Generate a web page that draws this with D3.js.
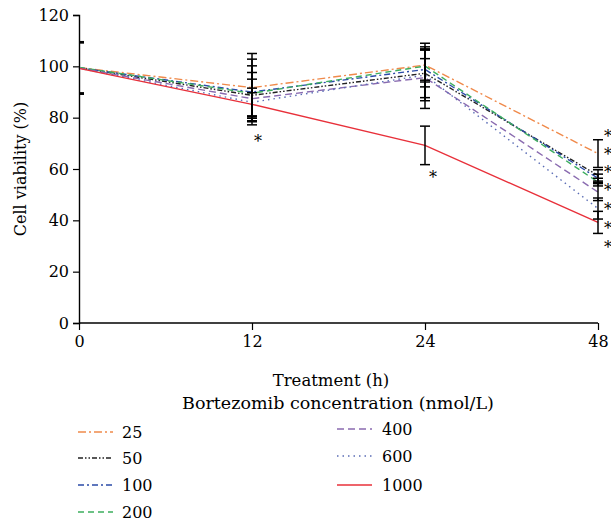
<!DOCTYPE html>
<html>
<head>
<meta charset="utf-8">
<script src="https://cdn.jsdelivr.net/npm/d3@7"></script>
<style>
  body { margin: 0; background: #fff; }
</style>
</head>
<body>
<script>
// data
const times = ["0", "12", "24", "48"];
const doses = ["25", "50", "100", "200", "400", "600", "1000"];

const v25 = [99.5, 91.7, 100.5, 66.0];
const v50 = [99.4, 88.7, 97.3, 57.5];
const v100 = [99.4, 90.0, 98.8, 56.4];
const v200 = [99.6, 89.5, 100.1, 54.9];
const v400 = [99.3, 87.4, 95.6, 51.0];
const v600 = [99.3, 86.0, 96.6, 44.6];
const v1000 = [99.2, 85.2, 69.2, 39.2];

const e25 = [10, 13.3, 8.5, 5.4];
const e50 = [10, 8.9, 9.5, 2.2];
const e100 = [10, 12.8, 4.2, 1.6];
const e200 = [10, 10.7, 6.2, 1.5];
const e400 = [10, 7.6, 12.0, 3.3];
const e600 = [10, 5.5, 10.0, 4.1];
const e1000 = [10, 4.5, 7.5, 4.3];

const yTicks = [0, 20, 40, 60, 80, 100, 120];
// asterisk positions (value units)
const star12 = 72.3, star24 = 58.2;
const starsAt48 = [74.3, 67.2, 60.2, 53.2, 45.7, 38.3, 30.9];

const values = [v25, v50, v100, v200, v400, v600, v1000];
const errors = [e25, e50, e100, e200, e400, e600, e1000];

const colors = ["#f08a4b", "#222222", "#2b4ba8", "#3dae5e", "#8a6bb0", "#5a6cb5", "#e8303a"];
const dashes = ["8,3,2,3", "5,2,1.5,2,1.5,2", "6,3,2,3", "6,4", "7,4", "1.5,4", null];

const serif = "DejaVu Serif";

let width = 611, height = 522;
let margin = { top: 15, bottom: 199, left: 79, right: 13 };

let svg = d3.select('body')
  .append('svg')
  .attr('width', width)
  .attr('height', height)
  .attr('font-family', serif);

const xScale = d3.scalePoint()
  .domain(times)
  .range([margin.left, width - margin.right]);

const yScale = d3.scaleLinear()
  .domain([0, 120])
  .range([height - margin.bottom, margin.top]);

// keep error bars right of the y axis, like the original
svg.append("clipPath").attr("id", "plot")
  .append("rect")
  .attr("x", margin.left).attr("y", 0)
  .attr("width", width - margin.left).attr("height", height - margin.bottom);

// axes
const yAxis = svg.append("g")
  .attr("transform", `translate(${margin.left},0)`)
  .call(d3.axisLeft(yScale).tickValues(yTicks).tickSize(6).tickPadding(4));

const xAxis = svg.append("g")
  .attr("transform", `translate(0,${height - margin.bottom})`)
  .call(d3.axisBottom(xScale).tickSize(7).tickPadding(6));

[xAxis, yAxis].forEach(a => {
  a.attr("font-family", serif).attr("font-size", 16);
  a.select(".domain").attr("stroke", "#000").attr("stroke-width", 1.4);
  a.selectAll(".tick line").attr("stroke", "#000").attr("stroke-width", 1.2);
  a.selectAll(".tick text").attr("fill", "#000");
});
xAxis.select(".domain").attr("d", `M${margin.left},0H${width - margin.right}`);

// lines
const line = d3.line()
  .x((d, i) => xScale(times[i]))
  .y(d => yScale(d));

values.forEach((vals, k) => {
  svg.append("path")
    .datum(vals)
    .attr("fill", "none")
    .attr("stroke", colors[k])
    .attr("stroke-width", 1.4)
    .attr("stroke-dasharray", dashes[k])
    .attr("d", line);
});

// error bars
const cap = 5;
const bars = svg.append("g")
  .attr("clip-path", "url(#plot)")
  .attr("stroke", "#000")
  .attr("stroke-width", 1.5);
values.forEach((vals, k) => {
  vals.forEach((v, i) => {
    const x = xScale(times[i]);
    const lo = yScale(v - errors[k][i]), hi = yScale(v + errors[k][i]);
    bars.append("line").attr("x1", x).attr("x2", x).attr("y1", lo).attr("y2", hi);
    bars.append("line").attr("x1", x - cap).attr("x2", x + cap).attr("y1", lo).attr("y2", lo);
    bars.append("line").attr("x1", x - cap).attr("x2", x + cap).attr("y1", hi).attr("y2", hi);
  });
});

// significance stars
const star = (x, v) => svg.append("text")
  .attr("x", x).attr("y", yScale(v))
  .attr("dy", "0.6em")
  .attr("text-anchor", "middle")
  .attr("font-size", 16)
  .attr("fill", "#000")
  .text("*");

star(xScale("12") + 6, star12);
star(xScale("24") + 8, star24);
starsAt48.forEach(s => star(xScale("48") + 10, s));

// axis titles
svg.append("text")
  .attr("transform", `translate(26,${yScale(60)})rotate(-90)`)
  .attr("text-anchor", "middle")
  .attr("font-size", 16)
  .text("Cell viability (%)");

svg.append("text")
  .attr("x", 331).attr("y", 386)
  .attr("text-anchor", "middle")
  .attr("font-size", 16.5)
  .text("Treatment (h)");

svg.append("text")
  .attr("x", 338).attr("y", 409)
  .attr("text-anchor", "middle")
  .attr("font-size", 17.5)
  .text("Bortezomib concentration (nmol/L)");

// legend
const legendPos = [
  [78, 432], [78, 458], [78, 485], [78, 512],
  [337, 429], [337, 456], [337, 485]
];
doses.forEach((d, k) => {
  const [lx, ly] = legendPos[k];
  svg.append("line")
    .attr("x1", lx).attr("x2", lx + 35)
    .attr("y1", ly).attr("y2", ly)
    .attr("stroke", colors[k])
    .attr("stroke-width", 1.4)
    .attr("stroke-dasharray", dashes[k]);
  svg.append("text")
    .attr("x", lx + (k < 4 ? 44 : 45))
    .attr("y", ly + 6)
    .attr("font-size", 16)
    .text(d);
});
</script>
</body>
</html>
